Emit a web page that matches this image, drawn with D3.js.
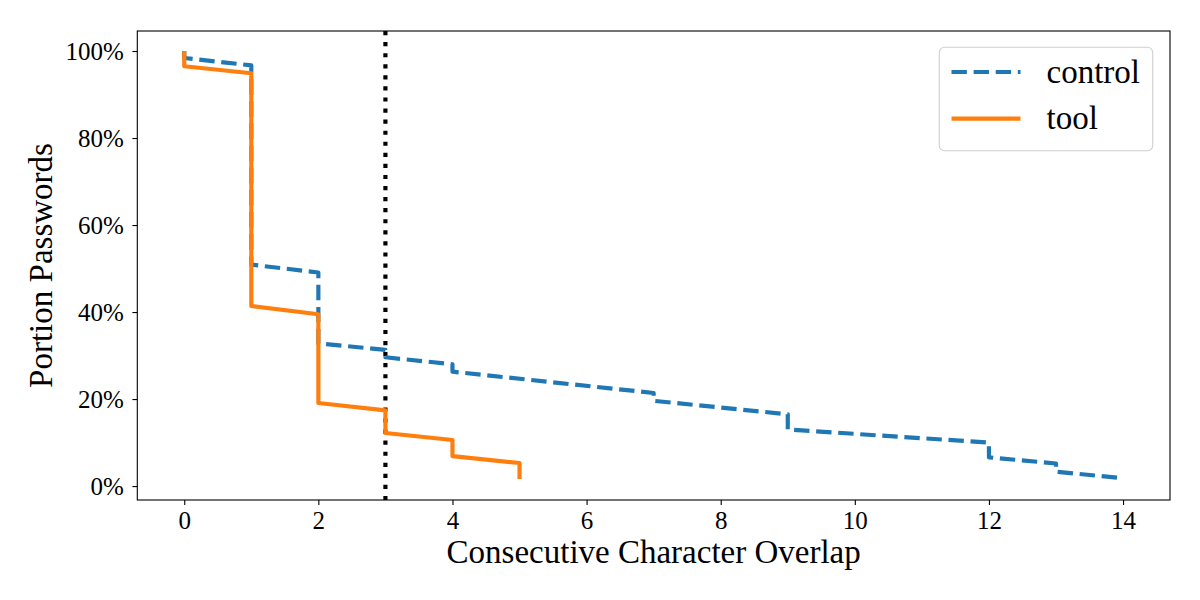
<!DOCTYPE html>
<html>
<head>
<meta charset="utf-8">
<script src="https://cdn.jsdelivr.net/npm/d3@7"></script>
<style>
  html, body { margin: 0; padding: 0; background: #fff; }
  svg { display: block; }
  text { font-family: "Liberation Serif", "Times New Roman", serif; fill: #000; }
</style>
</head>
<body>
<svg id="chart" width="1200" height="600"></svg>
<script>
// ---- data ----
const controlX = [0, 0, 1, 1, 2, 2, 3, 3, 4, 4, 7, 7, 9, 9, 12, 12, 13, 13, 14];
const controlY = [100, 98.4, 96.7, 50.9, 49.1, 32.8, 31.3, 29.6, 28.0, 26.3, 21.4, 19.6, 16.5, 13.0, 10.0, 6.6, 5.2, 3.3, 1.8];
const toolX = [0, 0, 1, 1, 2, 2, 3, 3, 4, 4, 5, 5];
const toolY = [100, 96.5, 94.9, 41.4, 39.5, 19.1, 17.4, 12.2, 10.6, 6.9, 5.3, 1.6];
const seriesNames = ["control", "tool"];
const xTicks = [0, 2, 4, 6, 8, 10, 12, 14];
const yTicks = [0, 20, 40, 60, 80, 100];
const thresholdX = 3;

// ---- layout ----
const svg = d3.select("#chart");
const pL = 137.3, pR = 1170, pT = 31, pB = 500;
const x = d3.scaleLinear().domain([-0.7, 14.7]).range([pL, pR]);
const y = d3.scaleLinear().domain([-3.2, 104.6]).range([pB, pT]);

const plot = svg.append("g");

// threshold dotted line
plot.append("line")
  .attr("x1", x(thresholdX)).attr("x2", x(thresholdX))
  .attr("y1", pT).attr("y2", pB)
  .attr("stroke", "#000").attr("stroke-width", 4.17)
  .attr("stroke-dasharray", "4.17 6.9");

const line = d3.line().x(d => x(d[0])).y(d => y(d[1]));
const controlPts = controlX.map((v, i) => [v, controlY[i]]);
const toolPts = toolX.map((v, i) => [v, toolY[i]]);

plot.append("path").datum(controlPts)
  .attr("d", line).attr("fill", "none")
  .attr("stroke", "#1f77b4").attr("stroke-width", 4.17)
  .attr("stroke-dasharray", "15.4 6.7")
  .attr("stroke-linejoin", "round");

plot.append("path").datum(toolPts)
  .attr("d", line).attr("fill", "none")
  .attr("stroke", "#ff7f0e").attr("stroke-width", 4.17)
  .attr("stroke-linejoin", "round");

// axes
const xAxis = svg.append("g").attr("transform", `translate(0,${pB})`)
  .call(d3.axisBottom(x).tickValues(xTicks).tickSize(4.9).tickSizeOuter(0).tickPadding(5));
const yAxis = svg.append("g").attr("transform", `translate(${pL},0)`)
  .call(d3.axisLeft(y).tickValues(yTicks).tickFormat(d => d + "%").tickSize(4.9).tickSizeOuter(0).tickPadding(8.5));
[xAxis, yAxis].forEach(a => {
  a.select(".domain").remove();
  a.selectAll(".tick line").attr("stroke", "#000").attr("stroke-width", 1.1);
  a.selectAll(".tick text").style("font-family", '"Liberation Serif", serif').style("font-size", "25px").attr("fill", "#000");
});
xAxis.selectAll(".tick text").attr("y", 29).attr("dy", null);
yAxis.selectAll(".tick text").attr("dy", "0.34em");

// frame
svg.append("rect").attr("x", pL).attr("y", pT)
  .attr("width", pR - pL).attr("height", pB - pT)
  .attr("fill", "none").attr("stroke", "#000").attr("stroke-width", 1.1);

// axis labels
svg.append("text").attr("x", (pL + pR) / 2).attr("y", 563)
  .attr("text-anchor", "middle").style("font-size", "33px")
  .text("Consecutive Character Overlap");
svg.append("text")
  .attr("transform", `translate(52,${(pT + pB) / 2}) rotate(-90)`)
  .attr("text-anchor", "middle").style("font-size", "33px")
  .text("Portion Passwords");

// legend
const lg = svg.append("g");
lg.append("rect").attr("x", 939.3).attr("y", 47.3).attr("width", 213.4).attr("height", 103.4)
  .attr("rx", 5).attr("fill", "#fff").attr("fill-opacity", 0.8)
  .attr("stroke", "#d0d0d0").attr("stroke-width", 1.1);
const legendItems = [
  { name: seriesNames[0], color: "#1f77b4", dash: "15.4 6.7", yy: 72 },
  { name: seriesNames[1], color: "#ff7f0e", dash: null, yy: 118.7 }
];
legendItems.forEach(it => {
  lg.append("line").attr("x1", 951.5).attr("x2", 1020.5).attr("y1", it.yy).attr("y2", it.yy)
    .attr("stroke", it.color).attr("stroke-width", 4.17)
    .attr("stroke-dasharray", it.dash);
  lg.append("text").attr("x", 1046.5).attr("y", it.yy).attr("dy", "0.32em")
    .style("font-size", "33px").text(it.name);
});
</script>
</body>
</html>
